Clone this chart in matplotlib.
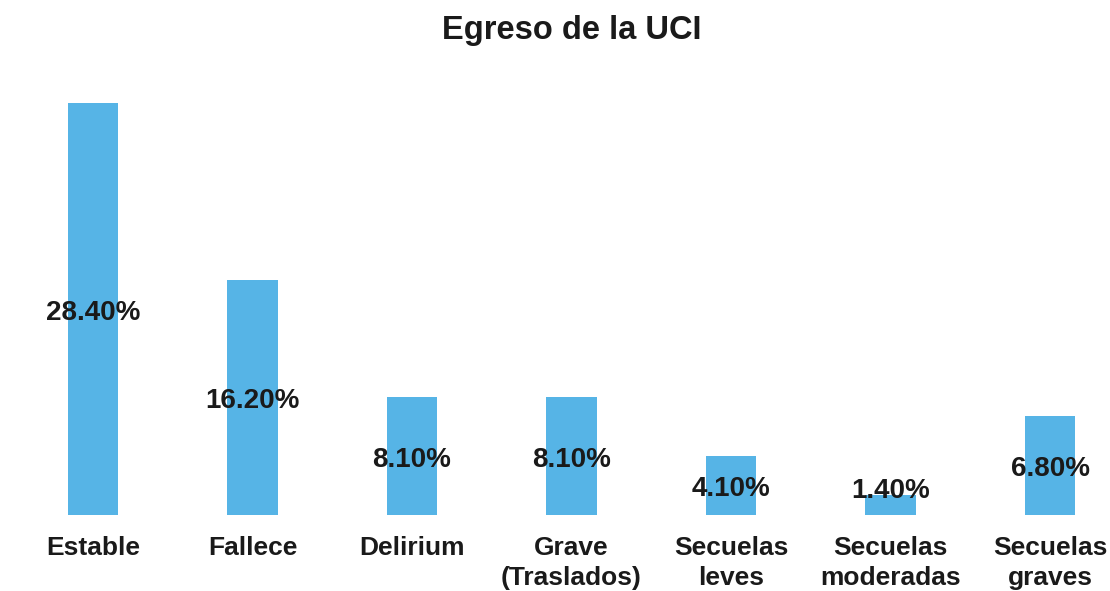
import matplotlib.pyplot as plt

# Data
categorias = ["Estable", "Fallece", "Delirium", "Grave\n(Traslados)",
              "Secuelas\nleves", "Secuelas\nmoderadas", "Secuelas\ngraves"]
porcentajes = [28.4, 16.2, 8.1, 8.1, 4.1, 1.4, 6.8]

plt.rcParams['font.family'] = ['Liberation Sans', 'DejaVu Sans']

fig = plt.figure(figsize=(11.10, 5.91), dpi=100)
ax = fig.add_axes([0, 76 / 591, 1, 412 / 591])

x = list(range(len(categorias)))
ax.bar(x, porcentajes, width=0.315, color='#56B4E6', zorder=2)

# labels roughly centred in the bars (pushed up for very short bars)
for xi, v in zip(x, porcentajes):
    ax.text(xi, max(v / 2, 1.9) - 0.25, f"{v:.2f}%", ha='center', va='center',
            fontsize=20, fontweight='bold', color='#1a1a1a', zorder=3)

ax.set_xlim(-93 / 159.5, (1110 - 93) / 159.5)
ax.set_ylim(0, 28.4)
ax.set_xticks(x)
ax.set_xticklabels(categorias, fontsize=19, fontweight='bold', color='#1a1a1a',
                   linespacing=1.3)
ax.tick_params(axis='x', length=0, pad=15)
ax.set_yticks([])
for s in ax.spines.values():
    s.set_visible(False)
ax.patch.set_alpha(0)

fig.text(0.515, 1 - 31 / 591, "Egreso de la UCI", ha='center', va='center',
         fontsize=23.5, fontweight='bold', color='#1a1a1a')

fig.savefig("out.png", dpi=100)
